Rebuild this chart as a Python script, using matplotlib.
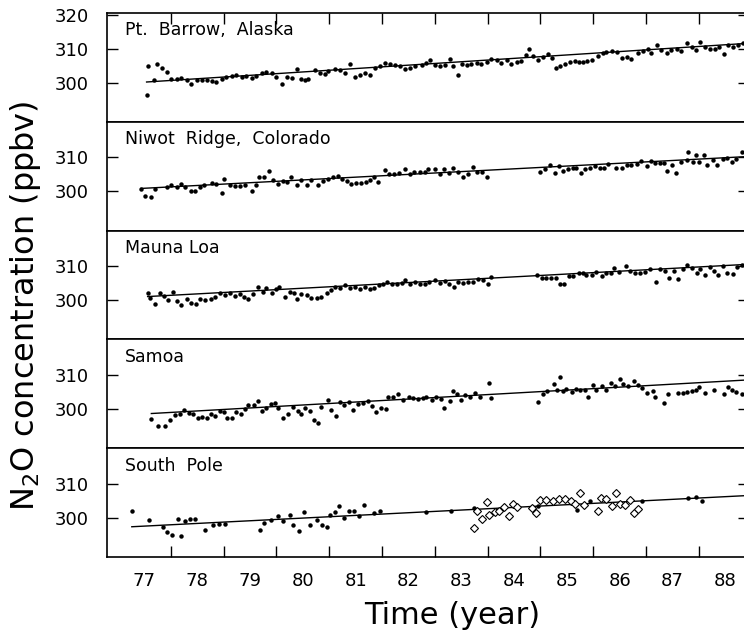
import matplotlib.pyplot as plt
import numpy as np

# N2O monthly means: (year, ppbv)
barrow = np.array([
    [77.54, 296.3], [77.57, 304.8], [77.68, 300.9], [77.73, 305.5], [77.84, 304.3], [77.92, 303.0],
    [78.01, 301.0], [78.11, 301.2], [78.20, 301.4], [78.30, 300.7], [78.39, 299.7], [78.49, 300.9],
    [78.58, 300.7], [78.68, 300.9], [78.77, 300.5], [78.86, 300.1], [78.96, 301.2], [79.05, 301.8],
    [79.15, 302.0], [79.24, 302.3], [79.34, 301.8], [79.43, 302.1], [79.53, 301.5], [79.62, 302.0],
    [79.72, 302.8], [79.81, 303.0], [79.91, 302.8], [80.00, 301.8], [80.10, 299.5], [80.19, 301.8],
    [80.29, 301.4], [80.38, 304.0], [80.47, 301.2], [80.54, 300.7], [80.60, 301.2], [80.73, 303.6],
    [80.82, 302.8], [80.92, 302.6], [80.98, 303.3], [81.11, 304.0], [81.20, 303.8], [81.30, 302.8],
    [81.39, 305.6], [81.48, 301.8], [81.58, 302.3], [81.67, 302.8], [81.77, 302.3], [81.86, 304.3],
    [81.96, 304.8], [82.05, 305.9], [82.15, 305.4], [82.24, 305.3], [82.34, 304.8], [82.43, 304.0],
    [82.53, 304.4], [82.62, 304.8], [82.75, 305.3], [82.84, 305.9], [82.91, 306.6], [83.00, 305.1],
    [83.09, 304.8], [83.19, 305.1], [83.28, 307.1], [83.35, 304.8], [83.44, 302.3], [83.51, 305.6],
    [83.60, 305.1], [83.69, 305.6], [83.79, 305.9], [83.88, 305.6], [83.98, 306.1], [84.07, 306.9],
    [84.17, 306.6], [84.26, 305.9], [84.36, 306.6], [84.45, 305.4], [84.55, 306.2], [84.64, 306.4],
    [84.72, 308.1], [84.79, 309.8], [84.86, 307.7], [84.96, 306.6], [85.04, 307.6], [85.15, 308.5],
    [85.22, 307.4], [85.29, 304.3], [85.37, 304.8], [85.46, 305.6], [85.56, 306.2], [85.65, 306.4],
    [85.73, 306.2], [85.81, 306.1], [85.89, 306.3], [85.97, 306.6], [86.09, 307.9], [86.19, 308.7],
    [86.25, 309.0], [86.35, 309.2], [86.44, 309.0], [86.54, 307.4], [86.63, 307.6], [86.72, 307.1],
    [86.85, 308.7], [86.95, 309.2], [87.04, 309.8], [87.10, 308.8], [87.20, 311.2], [87.29, 309.5],
    [87.39, 308.8], [87.48, 309.7], [87.58, 310.0], [87.67, 309.2], [87.77, 311.8], [87.86, 310.5],
    [87.94, 309.5], [88.02, 312.1], [88.11, 310.5], [88.21, 310.0], [88.30, 309.8], [88.39, 310.5],
    [88.47, 308.5], [88.56, 311.2], [88.65, 310.5], [88.75, 311.0], [88.83, 311.8],
])

niwot = np.array([
    [77.44, 300.7], [77.51, 298.8], [77.63, 298.3], [77.70, 300.6], [77.92, 301.4], [78.01, 301.9],
    [78.11, 301.4], [78.19, 302.1], [78.27, 301.2], [78.38, 300.0], [78.45, 300.0], [78.55, 301.4],
    [78.63, 301.9], [78.77, 302.5], [78.85, 302.3], [78.96, 299.7], [79.01, 303.7], [79.12, 301.9],
    [79.21, 301.6], [79.31, 301.7], [79.40, 302.0], [79.53, 300.2], [79.62, 301.9], [79.67, 304.2],
    [79.77, 304.2], [79.86, 306.0], [79.94, 303.4], [80.03, 302.3], [80.13, 303.1], [80.19, 302.8],
    [80.27, 304.4], [80.38, 301.9], [80.47, 303.4], [80.57, 301.9], [80.66, 303.4], [80.78, 302.0],
    [80.89, 303.2], [80.98, 303.7], [81.07, 304.2], [81.17, 304.6], [81.24, 303.7], [81.33, 303.2],
    [81.41, 302.3], [81.50, 302.5], [81.60, 302.5], [81.69, 302.8], [81.77, 303.4], [81.85, 304.2],
    [81.93, 302.8], [82.05, 306.2], [82.13, 305.1], [82.23, 305.1], [82.32, 305.3], [82.43, 306.5],
    [82.53, 305.1], [82.61, 305.7], [82.72, 305.6], [82.81, 305.8], [82.87, 306.5], [83.00, 306.5],
    [83.09, 305.1], [83.17, 306.5], [83.27, 305.3], [83.35, 306.9], [83.44, 305.6], [83.54, 304.2],
    [83.63, 305.1], [83.73, 307.1], [83.80, 305.6], [83.90, 305.8], [83.99, 304.4], [84.99, 305.7],
    [85.08, 306.5], [85.18, 307.7], [85.27, 305.3], [85.35, 307.4], [85.43, 306.0], [85.53, 306.5],
    [85.61, 306.8], [85.68, 306.9], [85.76, 305.4], [85.84, 306.5], [85.94, 306.9], [86.03, 307.4],
    [86.13, 306.9], [86.21, 306.8], [86.28, 308.1], [86.43, 306.9], [86.54, 306.9], [86.63, 307.7],
    [86.72, 307.9], [86.82, 308.1], [86.91, 309.0], [87.01, 307.4], [87.09, 309.0], [87.17, 308.3],
    [87.26, 308.3], [87.34, 308.3], [87.40, 306.0], [87.50, 307.7], [87.56, 305.3], [87.67, 308.8],
    [87.77, 309.3], [87.80, 311.6], [87.88, 308.8], [87.94, 310.8], [88.01, 308.8], [88.09, 310.8],
    [88.16, 307.7], [88.26, 309.3], [88.35, 307.7], [88.45, 309.7], [88.54, 309.9], [88.63, 308.6],
    [88.71, 309.7], [88.81, 311.6],
])

mauna_loa = np.array([
    [77.56, 302.1], [77.60, 300.7], [77.70, 298.8], [77.79, 302.1], [77.87, 301.4], [77.95, 300.2],
    [78.04, 302.5], [78.11, 299.7], [78.20, 298.5], [78.30, 300.4], [78.39, 299.3], [78.47, 298.8],
    [78.55, 300.4], [78.64, 300.0], [78.76, 300.4], [78.83, 301.1], [78.93, 302.1], [79.02, 301.6],
    [79.12, 302.1], [79.21, 301.3], [79.31, 301.9], [79.39, 301.1], [79.46, 300.4], [79.56, 301.9],
    [79.65, 303.9], [79.74, 302.5], [79.81, 303.5], [79.91, 302.2], [80.00, 303.2], [80.05, 303.9],
    [80.16, 300.9], [80.25, 302.5], [80.34, 302.1], [80.38, 300.4], [80.47, 301.9], [80.57, 301.6],
    [80.66, 300.7], [80.76, 300.7], [80.85, 301.1], [80.95, 302.2], [81.04, 303.0], [81.11, 303.9],
    [81.20, 303.5], [81.30, 304.6], [81.39, 303.5], [81.48, 303.9], [81.58, 303.2], [81.67, 303.9],
    [81.77, 303.2], [81.85, 303.7], [81.94, 304.4], [82.02, 304.9], [82.10, 305.3], [82.19, 304.9],
    [82.29, 304.7], [82.37, 305.1], [82.44, 306.0], [82.53, 304.9], [82.62, 305.3], [82.72, 304.9],
    [82.81, 304.9], [82.89, 305.3], [83.00, 306.0], [83.09, 305.0], [83.19, 305.8], [83.27, 304.9],
    [83.37, 303.9], [83.44, 305.3], [83.54, 305.0], [83.63, 305.3], [83.73, 305.3], [83.82, 306.3],
    [83.92, 306.0], [84.00, 304.9], [84.07, 306.9], [84.93, 307.5], [85.02, 306.5], [85.10, 306.5],
    [85.19, 306.5], [85.29, 306.5], [85.37, 304.7], [85.45, 304.7], [85.54, 307.2], [85.62, 307.2],
    [85.72, 307.9], [85.80, 308.1], [85.87, 307.5], [85.97, 307.5], [86.06, 308.4], [86.16, 307.2],
    [86.25, 307.9], [86.33, 307.9], [86.40, 309.5], [86.49, 308.4], [86.62, 310.0], [86.69, 308.6],
    [86.79, 307.9], [86.88, 308.1], [86.98, 308.4], [87.08, 309.1], [87.18, 305.3], [87.26, 309.1],
    [87.36, 308.6], [87.44, 306.5], [87.53, 308.6], [87.61, 306.3], [87.70, 309.1], [87.78, 310.3],
    [87.86, 309.5], [87.96, 308.1], [88.02, 309.3], [88.11, 307.5], [88.21, 309.7], [88.28, 308.6],
    [88.37, 307.5], [88.46, 310.0], [88.54, 308.1], [88.64, 307.7], [88.73, 309.7], [88.81, 310.5],
])

samoa = np.array([
    [77.63, 297.0], [77.75, 295.0], [77.89, 295.0], [77.98, 296.7], [78.08, 298.2], [78.17, 298.5],
    [78.25, 299.7], [78.34, 298.8], [78.42, 298.5], [78.51, 297.5], [78.59, 297.7], [78.68, 297.5],
    [78.76, 298.7], [78.83, 298.0], [78.93, 299.5], [79.01, 299.0], [79.07, 297.3], [79.15, 297.5],
    [79.23, 299.0], [79.33, 298.7], [79.40, 300.0], [79.46, 301.3], [79.57, 301.3], [79.65, 302.3],
    [79.73, 299.5], [79.81, 300.3], [79.89, 301.5], [79.97, 301.7], [80.03, 300.3], [80.13, 297.3],
    [80.22, 298.7], [80.32, 300.5], [80.40, 299.5], [80.47, 298.5], [80.54, 300.3], [80.63, 299.5],
    [80.71, 296.7], [80.78, 296.0], [80.85, 300.7], [80.97, 302.7], [81.04, 299.7], [81.12, 298.0],
    [81.20, 302.0], [81.28, 301.3], [81.37, 302.0], [81.45, 299.7], [81.55, 301.5], [81.64, 301.7],
    [81.74, 302.5], [81.80, 301.0], [81.88, 299.0], [81.98, 300.2], [82.07, 300.0], [82.12, 303.5],
    [82.21, 303.5], [82.31, 304.3], [82.40, 302.7], [82.51, 303.7], [82.59, 303.3], [82.68, 303.0],
    [82.78, 303.3], [82.84, 303.7], [82.94, 302.7], [83.02, 303.5], [83.11, 303.0], [83.18, 300.3],
    [83.28, 302.5], [83.35, 305.3], [83.42, 304.5], [83.49, 302.7], [83.57, 304.0], [83.66, 303.7],
    [83.76, 304.7], [83.85, 303.7], [84.03, 307.7], [84.07, 303.3], [84.96, 302.0], [85.05, 304.5],
    [85.13, 305.3], [85.26, 307.3], [85.31, 305.5], [85.36, 309.3], [85.42, 305.3], [85.49, 306.0],
    [85.59, 305.0], [85.68, 306.0], [85.75, 305.5], [85.84, 305.7], [85.90, 303.7], [85.99, 307.0],
    [86.06, 305.7], [86.16, 306.7], [86.24, 305.7], [86.33, 307.7], [86.41, 306.7], [86.50, 308.8],
    [86.57, 307.5], [86.66, 306.7], [86.77, 308.3], [86.85, 307.0], [86.93, 306.3], [87.01, 304.7],
    [87.13, 305.3], [87.17, 303.7], [87.34, 301.7], [87.42, 304.5], [87.61, 304.8], [87.70, 304.8],
    [87.77, 305.0], [87.86, 305.3], [87.94, 305.7], [88.01, 306.5], [88.11, 304.7], [88.28, 305.7],
    [88.47, 304.3], [88.56, 306.5], [88.62, 305.7], [88.70, 305.0], [88.81, 304.3],
])

south_pole = np.array([
    [77.26, 302.1], [77.58, 299.5], [77.85, 297.2], [77.93, 295.9], [78.03, 294.9], [78.13, 299.8],
    [78.20, 294.7], [78.27, 299.0], [78.36, 299.6], [78.46, 299.6], [78.64, 296.5], [78.79, 298.0],
    [78.91, 298.1], [79.03, 298.1], [79.68, 296.5], [79.77, 298.6], [79.89, 299.3], [80.03, 300.6],
    [80.13, 299.1], [80.26, 301.0], [80.32, 297.8], [80.42, 296.2], [80.52, 301.6], [80.64, 298.0],
    [80.76, 299.3], [80.86, 297.8], [80.95, 297.2], [81.01, 300.8], [81.11, 301.6], [81.19, 303.4],
    [81.27, 300.0], [81.38, 302.0], [81.46, 302.0], [81.56, 300.6], [81.66, 303.7], [81.85, 301.3],
    [81.96, 302.0], [82.84, 301.6], [83.31, 302.0], [83.74, 302.9], [84.95, 303.4], [85.70, 302.3],
    [85.94, 305.1], [86.92, 305.1], [87.80, 305.9], [87.94, 306.1], [88.05, 304.9],
])

# second South Pole record (open diamonds)
south_pole_open = np.array([
    [83.74, 296.9], [83.80, 302.0], [83.89, 299.6], [83.99, 304.6], [84.03, 301.0], [84.13, 301.8],
    [84.21, 302.0], [84.31, 303.1], [84.41, 300.6], [84.48, 304.1], [84.56, 303.1], [84.84, 302.9],
    [84.92, 301.5], [84.99, 305.4], [85.11, 305.4], [85.23, 305.1], [85.35, 305.7], [85.47, 305.7],
    [85.57, 305.1], [85.66, 304.1], [85.74, 307.4], [85.82, 303.9], [86.09, 302.0], [86.15, 305.9],
    [86.25, 305.7], [86.35, 303.4], [86.43, 307.4], [86.51, 304.1], [86.60, 303.9], [86.70, 305.4],
    [86.78, 301.3], [86.85, 302.7],
])

station_names = ['Pt.  Barrow,  Alaska', 'Niwot  Ridge,  Colorado', 'Mauna Loa', 'Samoa', 'South  Pole']
station_data = [barrow, niwot, mauna_loa, samoa, south_pole]

# linear trend lines: start year/value and end year/value
trend_x0 = [77.54, 77.44, 77.56, 77.63, 77.26]
trend_y0 = [300.2, 300.9, 301.1, 298.7, 297.4]
trend_x1 = 88.95
trend_y1 = [311.6, 310.3, 310.6, 308.6, 306.6]

year_labels = ['77', '78', '79', '80', '81', '82', '83', '84', '85', '86', '87', '88']

fig = plt.figure(figsize=(7.44, 6.36), dpi=100)

left, width = 0.1438, 0.863
bottom, top = 0.1242, 0.9796
h = (top - bottom) / 5

axes = []
for i in range(5):
    ax = fig.add_axes([left, bottom + (4 - i) * h, width, h])
    axes.append(ax)
    d = station_data[i]
    ax.plot(d[:, 0], d[:, 1], 'o', ms=3.2, mew=0, color='black')
    ax.plot([trend_x0[i], trend_x1], [trend_y0[i], trend_y1[i]], color='black', lw=1.0)
    if i == 4:
        ax.plot(south_pole_open[:, 0], south_pole_open[:, 1], 'D', ms=4, mfc='white',
                mec='black', mew=0.8)

    ax.set_xlim(76.79, 88.95)
    ax.set_ylim(288.5, 320.5)
    ax.set_yticks([300, 310, 320] if i == 0 else [300, 310])
    ax.tick_params(axis='y', direction='in', length=8, width=1, left=True, right=True,
                   labelsize=13, pad=13)
    ax.set_xticks(np.arange(78, 89))
    ax.set_xticklabels([])
    ax.tick_params(axis='x', direction='in', length=8, width=1,
                   bottom=(i == 4), top=(i == 0))
    for s in ax.spines.values():
        s.set_linewidth(1.2)
    ax.text(0.028, 0.84, station_names[i], transform=ax.transAxes, fontsize=12.5, va='center')

axb = axes[4]
axb.set_xticks(np.arange(77.5, 89.0, 1.0), labels=year_labels, minor=True)
axb.tick_params(axis='x', which='minor', length=0, labelsize=13, pad=11)

fig.text(0.034, 0.52, 'N$_2$O concentration (ppbv)', rotation=90, fontsize=23,
         ha='center', va='center')
fig.text(0.608, 0.033, 'Time (year)', fontsize=22, ha='center', va='center')

fig.savefig('out.png', dpi=100)
